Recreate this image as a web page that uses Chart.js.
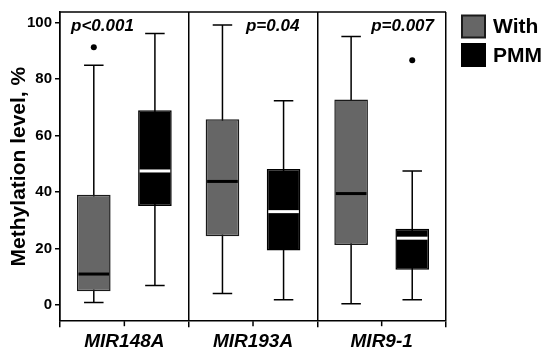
<!DOCTYPE html>
<html>
<head>
<meta charset="utf-8">
<script src="https://cdn.jsdelivr.net/npm/chart.js@4.4.1/dist/chart.umd.min.js"></script>
<style>
  body { margin: 0; background: #fff; }
  #wrap { width: 550px; height: 360px; }
</style>
</head>
<body>
<div id="wrap"><canvas id="myChart"></canvas></div>
<script>
var categories = ['MIR148A', 'MIR193A', 'MIR9-1'];
var seriesNames = ['With', 'PMM'];

// box plot stats
var withMin = [0.9, 4.1, 0.5];
var withQ1 = [4.9, 24.4, 21.3];
var withMedian = [11, 43.8, 39.5];
var withQ3 = [39.1, 65.8, 72.8];
var withMax = [84.9, 99.2, 95.1];
var withOutliers = [[91.3], [], []];

var pmmMin = [6.9, 1.9, 1.9];
var pmmQ1 = [35.1, 19.3, 12.5];
var pmmMedian = [47.5, 33.1, 23.7];
var pmmQ3 = [69, 48.2, 27];
var pmmMax = [96.2, 72.4, 47.5];
var pmmOutliers = [[], [], [86.7]];

var pValues = ['p<0.001', 'p=0.04', 'p=0.007'];
var yTicks = [0, 20, 40, 60, 80, 100];

var FONT = '"Liberation Sans", Arial, sans-serif';

var stats = [
  { min: withMin, med: withMedian, max: withMax, out: withOutliers, medColor: '#000' },
  { min: pmmMin, med: pmmMedian, max: pmmMax, out: pmmOutliers, medColor: '#fff' }
];

var boxPlotPlugin = {
  id: 'boxPlot',
  beforeDatasetsDraw: function(chart) {
    var ctx = chart.ctx;
    var y = chart.scales.y;
    ctx.save();
    ctx.strokeStyle = '#000';
    ctx.lineWidth = 1.5;
    stats.forEach(function(s, di) {
      chart.getDatasetMeta(di).data.forEach(function(bar, i) {
        var cap = bar.width * 0.29;
        var yMin = y.getPixelForValue(s.min[i]);
        var yMax = y.getPixelForValue(s.max[i]);
        ctx.beginPath();
        ctx.moveTo(bar.x, yMin); ctx.lineTo(bar.x, yMax);
        ctx.moveTo(bar.x - cap, yMin); ctx.lineTo(bar.x + cap, yMin);
        ctx.moveTo(bar.x - cap, yMax); ctx.lineTo(bar.x + cap, yMax);
        ctx.stroke();
      });
    });
    ctx.restore();
  },
  afterDatasetsDraw: function(chart) {
    var ctx = chart.ctx;
    var x = chart.scales.x;
    var y = chart.scales.y;
    var area = chart.chartArea;
    ctx.save();
    stats.forEach(function(s, di) {
      chart.getDatasetMeta(di).data.forEach(function(bar, i) {
        var half = bar.width / 2 - 1.5;
        var ym = y.getPixelForValue(s.med[i]);
        ctx.strokeStyle = s.medColor;
        ctx.lineWidth = 3;
        ctx.beginPath();
        ctx.moveTo(bar.x - half, ym); ctx.lineTo(bar.x + half, ym);
        ctx.stroke();
        ctx.fillStyle = '#000';
        s.out[i].forEach(function(v) {
          ctx.beginPath();
          ctx.arc(bar.x, y.getPixelForValue(v), 3, 0, Math.PI * 2);
          ctx.fill();
        });
      });
    });
    // top frame line
    ctx.strokeStyle = '#000';
    ctx.lineWidth = 1.5;
    ctx.beginPath();
    ctx.moveTo(area.left, area.top); ctx.lineTo(area.right, area.top);
    ctx.stroke();
    // tick marks at category centres
    categories.forEach(function(c, i) {
      var px = x.getPixelForValue(i);
      ctx.beginPath();
      ctx.moveTo(px, area.bottom); ctx.lineTo(px, area.bottom + 5);
      ctx.stroke();
    });
    // p values
    var catW = (area.right - area.left) / categories.length;
    ctx.fillStyle = '#000';
    ctx.font = 'italic bold 17px ' + FONT;
    ctx.textBaseline = 'alphabetic';
    pValues.forEach(function(p, i) {
      var left = area.left + catW * i;
      if (i === 0) {
        ctx.textAlign = 'left';
        ctx.fillText(p, left + 11, area.top + 19);
      } else {
        ctx.textAlign = 'right';
        ctx.fillText(p, left + catW - (i === 1 ? 18 : 12), area.top + 19);
      }
    });
    // legend
    ctx.font = 'bold 21px ' + FONT;
    ctx.textAlign = 'left';
    ctx.textBaseline = 'middle';
    chart.data.datasets.forEach(function(ds, i) {
      var bx = area.right + 16;
      var by = area.top + 3.5 + i * 28.5;
      ctx.fillStyle = ds.backgroundColor;
      ctx.fillRect(bx, by, 23, 22);
      ctx.strokeStyle = ds.borderColor;
      ctx.lineWidth = 2;
      ctx.strokeRect(bx, by, 23, 22);
      ctx.fillStyle = '#000';
      ctx.fillText(seriesNames[i], bx + 31, by + 12);
    });
    ctx.restore();
  }
};

var ctx = document.getElementById('myChart').getContext('2d');
var myChart = new Chart(ctx, {
  type: 'bar',
  data: {
    labels: categories,
    datasets: [{
      label: seriesNames[0],
      data: withQ1.map(function(v, i) { return [v, withQ3[i]]; }),
      backgroundColor: '#666666',
      borderColor: '#1a1a1a',
      borderWidth: 1.5,
      borderSkipped: false,
      categoryPercentage: 0.95,
      barPercentage: 0.55
    }, {
      label: seriesNames[1],
      data: pmmQ1.map(function(v, i) { return [v, pmmQ3[i]]; }),
      backgroundColor: '#000000',
      borderColor: '#000000',
      borderWidth: 1.5,
      borderSkipped: false,
      categoryPercentage: 0.95,
      barPercentage: 0.55
    }]
  },
  options: {
    responsive: true,
    maintainAspectRatio: false,
    animation: false,
    layout: { padding: { top: 6, right: 104, bottom: 4, left: 9 } },
    plugins: {
      tooltip: { enabled: false },
      legend: { display: false }
    },
    scales: {
      x: {
        grid: {
          offset: true,
          color: '#000',
          lineWidth: 1.5,
          tickLength: 6,
          drawOnChartArea: true
        },
        border: { color: '#000', width: 1.5 },
        ticks: {
          padding: 3,
          color: '#000',
          font: { family: FONT, size: 19, weight: 'bold', style: 'italic' }
        }
      },
      y: {
        min: -5.7,
        max: 103.8,
        afterBuildTicks: function(scale) {
          scale.ticks = yTicks.map(function(v) { return { value: v }; });
        },
        grid: { drawOnChartArea: false, color: '#000', lineWidth: 1.5, tickLength: 5 },
        border: { color: '#000', width: 1.5 },
        ticks: {
          padding: 3,
          color: '#000',
          font: { family: FONT, size: 15, weight: 'bold' }
        },
        title: {
          display: true,
          text: 'Methylation level, %',
          color: '#000',
          padding: { top: 0, bottom: -6 },
          font: { family: FONT, size: 21, weight: 'bold', lineHeight: 1 }
        }
      }
    }
  },
  plugins: [boxPlotPlugin]
});
</script>
</body>
</html>
